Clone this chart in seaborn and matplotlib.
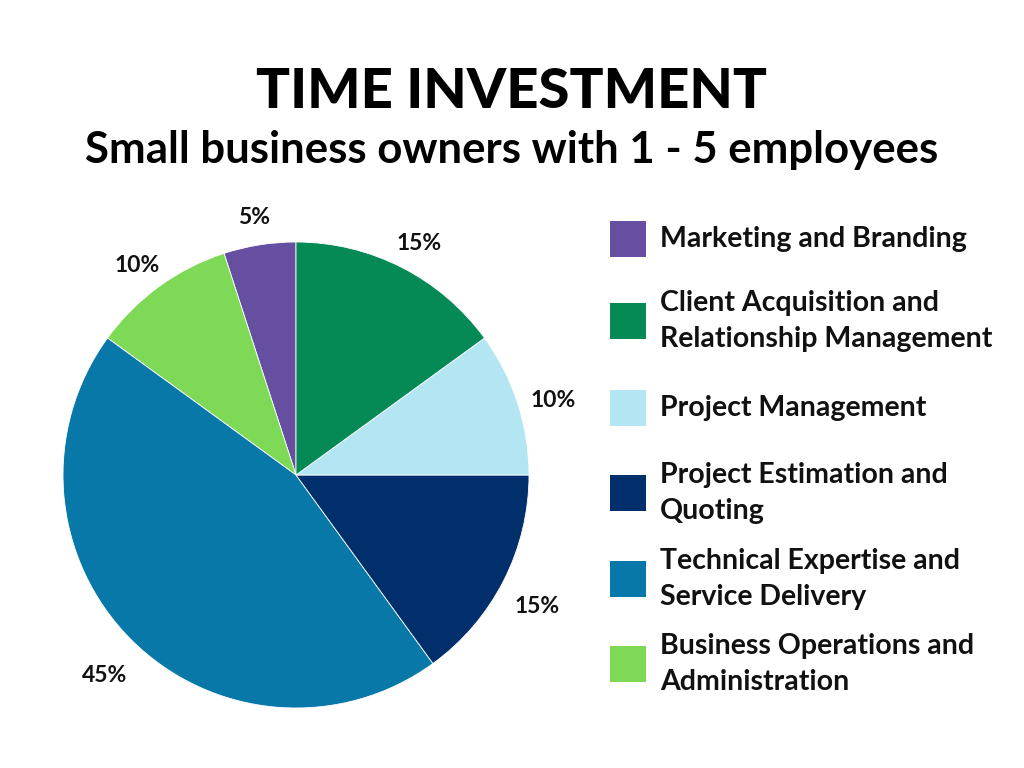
import matplotlib
matplotlib.use("Agg")
import matplotlib.pyplot as plt
from matplotlib.patches import Rectangle
from matplotlib.transforms import offset_copy
import seaborn as sns

# Data (pie order: counter-clockwise from 12 o'clock)
pie_categories = [
    "Marketing and Branding",
    "Business Operations and Administration",
    "Technical Expertise and Service Delivery",
    "Project Estimation and Quoting",
    "Project Management",
    "Client Acquisition and Relationship Management",
]
pie_values = [5, 10, 45, 15, 10, 15]
pie_colors = ["#664FA0", "#7ED957", "#0778A8", "#002F6B", "#B3E6F2", "#058A56"]

legend_order = [
    "Marketing and Branding",
    "Client Acquisition and Relationship Management",
    "Project Management",
    "Project Estimation and Quoting",
    "Technical Expertise and Service Delivery",
    "Business Operations and Administration",
]
legend_labels = [
    "Marketing and Branding",
    "Client Acquisition and\nRelationship Management",
    "Project Management",
    "Project Estimation and\nQuoting",
    "Technical Expertise and\nService Delivery",
    "Business Operations and\nAdministration",
]

title = "TIME INVESTMENT"
subtitle = "Small business owners with 1 - 5 employees"

sns.set_theme(style="white")
plt.rcParams["font.family"] = ["Lato", "DejaVu Sans"]

W, H = 1024, 768
fig = plt.figure(figsize=(W / 100, H / 100), dpi=100)
fig.patch.set_facecolor("white")

cx, cy, R = 296, 475, 233
ax = fig.add_axes([(cx - R) / W, (H - cy - R) / H, 2 * R / W, 2 * R / H])
wedges, texts, autotexts = ax.pie(
    pie_values,
    colors=pie_colors,
    startangle=90,
    counterclock=True,
    autopct=lambda p: f"{p:.0f}%",
    pctdistance=1.16,
    wedgeprops=dict(linewidth=0.6, edgecolor="white"),
    textprops=dict(fontsize=16.5, fontweight="bold", color="#111111"),
)
shift = offset_copy(ax.transData, fig=fig, x=0, y=-9, units="dots")
for t in autotexts:
    t.set_transform(shift)
ax.set_xlim(-1, 1)
ax.set_ylim(-1, 1)
ax.set_aspect("equal")
ax.axis("off")

fig.text(0.5, (H - 92) / H, title, ha="center", va="center",
         fontsize=40.5, fontweight="black", color="#000000")
fig.text(0.5, (H - 150) / H, subtitle, ha="center", va="center",
         fontsize=31.5, fontweight="bold", color="#000000")

color_map = dict(zip(pie_categories, pie_colors))
item_y = [239, 321, 408, 493, 579, 664]
for cat, lab, y in zip(legend_order, legend_labels, item_y):
    fig.patches.append(Rectangle((610 / W, (H - y - 18) / H), 36 / W, 36 / H,
                                 transform=fig.transFigure, facecolor=color_map[cat],
                                 edgecolor="none"))
    fig.text(660 / W, (H - y) / H, lab, ha="left", va="center", fontsize=20.5,
             fontweight="bold", color="#111111", linespacing=1.45)

fig.savefig("out.png", dpi=100, facecolor="white")
